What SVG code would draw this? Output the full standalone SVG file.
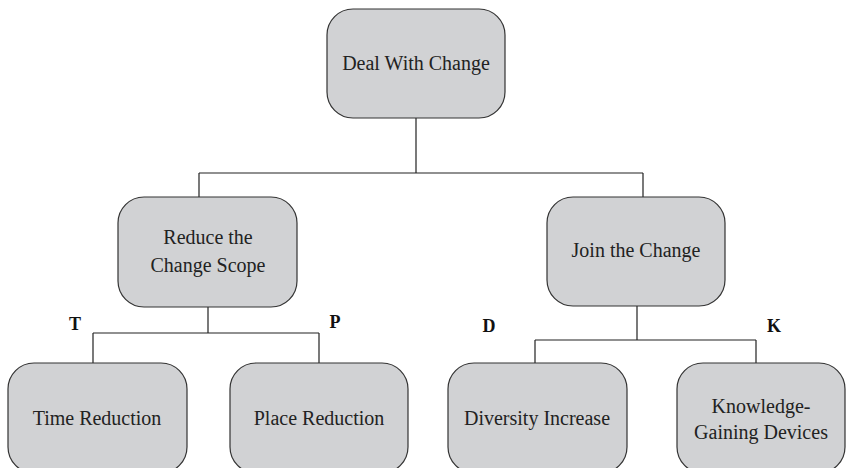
<svg xmlns="http://www.w3.org/2000/svg" width="846" height="468" viewBox="0 0 846 468">
<style>
.box{fill:#d1d2d4;stroke:#333;stroke-width:1.2}
.t{font-family:"Liberation Serif","Times New Roman",serif;font-size:20px;fill:#222;text-anchor:middle}
.lb{font-family:"Liberation Serif","Times New Roman",serif;font-size:18px;font-weight:bold;fill:#111;text-anchor:middle}
.c{fill:none;stroke:#222;stroke-width:1.2}
</style>
<rect width="846" height="468" fill="#fff"/>
<g id="connectors">
<path class="c" d="M416 118V173M199 173H643M199 173V197M643 173V197"/>
<path class="c" d="M208 307V333M93 333H319M93 333V363M319 333V363"/>
<path class="c" d="M637 306V340M535 340H756M535 340V363M756 340V363"/>
</g>
<g id="n-deal"><rect class="box" x="327" y="9" width="178" height="109" rx="26"/><text class="t" x="416" y="70">Deal With Change</text></g>
<g id="n-reduce"><rect class="box" x="118" y="197" width="179" height="110" rx="26"/><text class="t" x="208" y="244">Reduce the</text><text class="t" x="208" y="272">Change Scope</text></g>
<g id="n-join"><rect class="box" x="547" y="197" width="178" height="109" rx="26"/><text class="t" x="636" y="257">Join the Change</text></g>
<g id="n-time"><rect class="box" x="8" y="363" width="179" height="110" rx="26"/><text class="t" x="97" y="425">Time Reduction</text></g>
<g id="n-place"><rect class="box" x="230" y="363" width="178" height="110" rx="26"/><text class="t" x="319" y="425">Place Reduction</text></g>
<g id="n-diversity"><rect class="box" x="448" y="363" width="179" height="110" rx="26"/><text class="t" x="537" y="425">Diversity Increase</text></g>
<g id="n-knowledge"><rect class="box" x="677" y="363" width="168" height="110" rx="26"/><text class="t" x="761" y="413">Knowledge-</text><text class="t" x="761" y="439">Gaining Devices</text></g>
<g id="labels">
<text class="lb" x="75" y="330">T</text>
<text class="lb" x="335" y="328">P</text>
<text class="lb" x="489" y="332">D</text>
<text class="lb" x="774" y="332">K</text>
</g>
</svg>
